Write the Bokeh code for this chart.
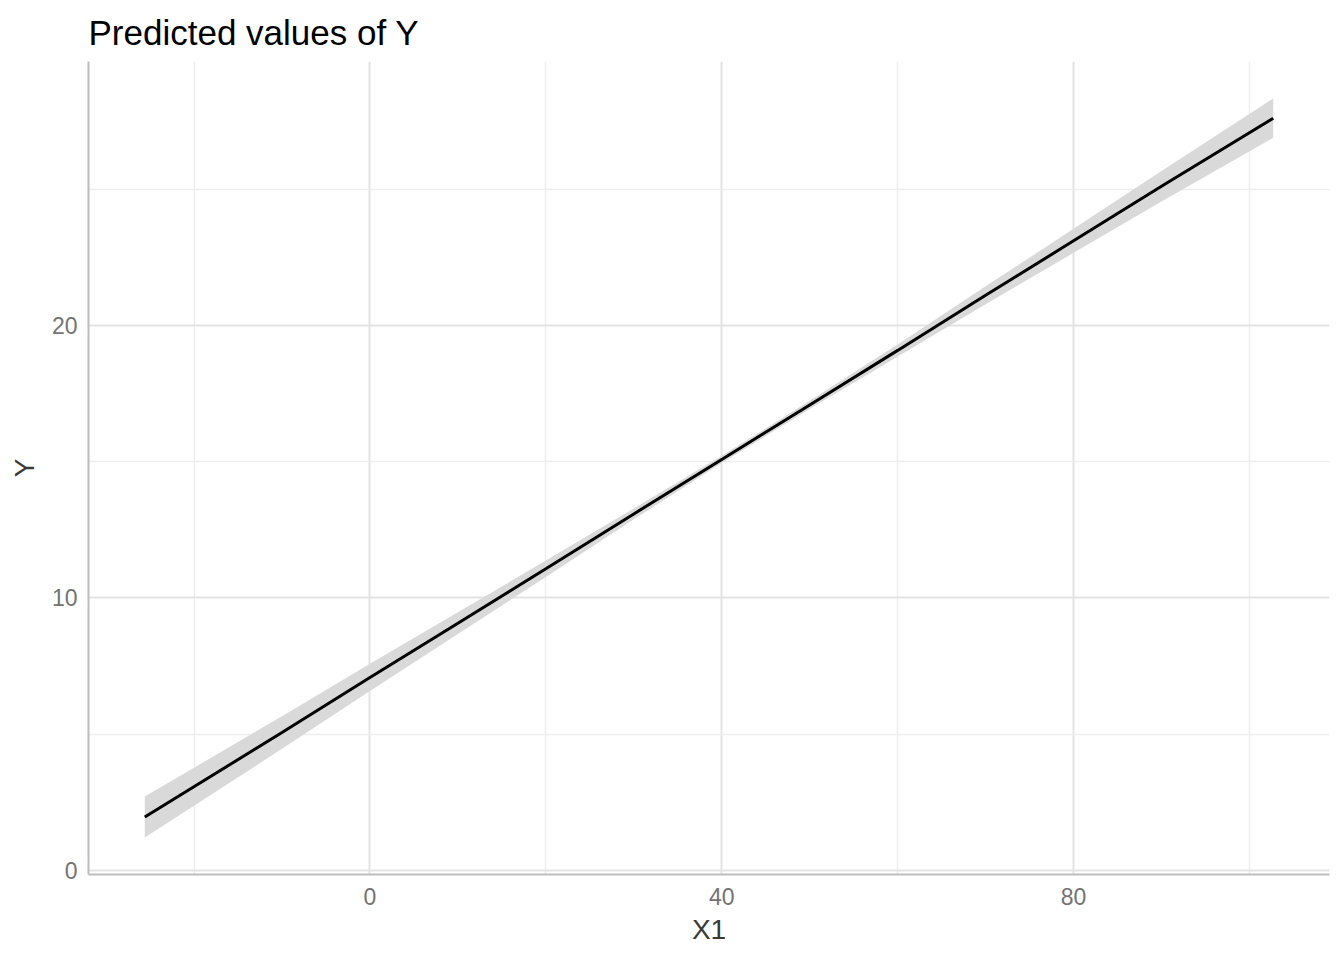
from bokeh.plotting import figure
from bokeh.models import FixedTicker, Range1d, ColumnDataSource
from bokeh.embed import file_html
from bokeh.resources import INLINE

# Data
x1 = [-25.6, -10, 0, 10, 20, 30, 40, 50, 60, 70, 80, 90, 102.7]
predicted = [1.96, 5.06, 7.08, 9.07, 11.07, 13.08, 15.08, 17.08, 19.08, 21.1, 23.1, 25.1, 27.6]
conf_low = [1.21, 4.46, 6.58, 8.67, 10.77, 12.88, 14.95, 16.93, 18.86, 20.77, 22.66, 24.54, 26.88]
conf_high = [2.71, 5.66, 7.58, 9.47, 11.37, 13.28, 15.21, 17.23, 19.30, 21.43, 23.54, 25.66, 28.32]

x_ticks = [0, 40, 80]
x_minor = [-20, 20, 60, 100]
y_ticks = [0, 10, 20]
y_minor = [5, 15, 25]

src = ColumnDataSource(dict(x=x1, y=predicted, lo=conf_low, hi=conf_high))

FONT = "Liberation Sans"

p = figure(width=1344, height=960, output_backend="svg", toolbar_location=None,
           x_range=Range1d(-32.0, 109.1), y_range=Range1d(-0.15, 29.68),
           title="Predicted values of Y", x_axis_label="X1", y_axis_label="Y",
           min_border_left=88, min_border_right=15, min_border_top=14, min_border_bottom=86)

p.outline_line_color = None
p.background_fill_color = "white"
p.border_fill_color = "white"

p.title.text_font = FONT
p.title.text_font_size = "35px"
p.title.text_font_style = "normal"
p.title.text_color = "black"
p.title.align = "left"
p.title.standoff = 20

p.varea(x="x", y1="lo", y2="hi", source=src, fill_color="#d9d9d9", fill_alpha=1.0)
p.line(x="x", y="y", source=src, line_color="black", line_width=3)

p.xaxis.ticker = FixedTicker(ticks=x_ticks, minor_ticks=x_minor)
p.yaxis.ticker = FixedTicker(ticks=y_ticks, minor_ticks=y_minor)
p.xgrid.ticker = FixedTicker(ticks=x_ticks, minor_ticks=x_minor)
p.ygrid.ticker = FixedTicker(ticks=y_ticks, minor_ticks=y_minor)

for g in (p.xgrid, p.ygrid):
    g.grid_line_color = "#e3e3e3"
    g.grid_line_width = 2
    g.minor_grid_line_color = "#ededed"
    g.minor_grid_line_width = 1.5

for ax in (p.xaxis, p.yaxis):
    ax.axis_line_color = "#bdbdbd"
    ax.axis_line_width = 2
    ax.major_tick_line_color = None
    ax.minor_tick_line_color = None
    ax.major_label_text_font = FONT
    ax.major_label_text_font_size = "23px"
    ax.major_label_text_color = "#737373"
    ax.axis_label_text_font = FONT
    ax.axis_label_text_font_size = "28px"
    ax.axis_label_text_font_style = "normal"
    ax.axis_label_text_color = "#3a3a3a"

p.xaxis.major_label_standoff = 7
p.xaxis.axis_label_standoff = 6
p.yaxis.major_label_standoff = 5
p.yaxis.axis_label_standoff = 9

open("out.html", "w").write(file_html(p, INLINE))
